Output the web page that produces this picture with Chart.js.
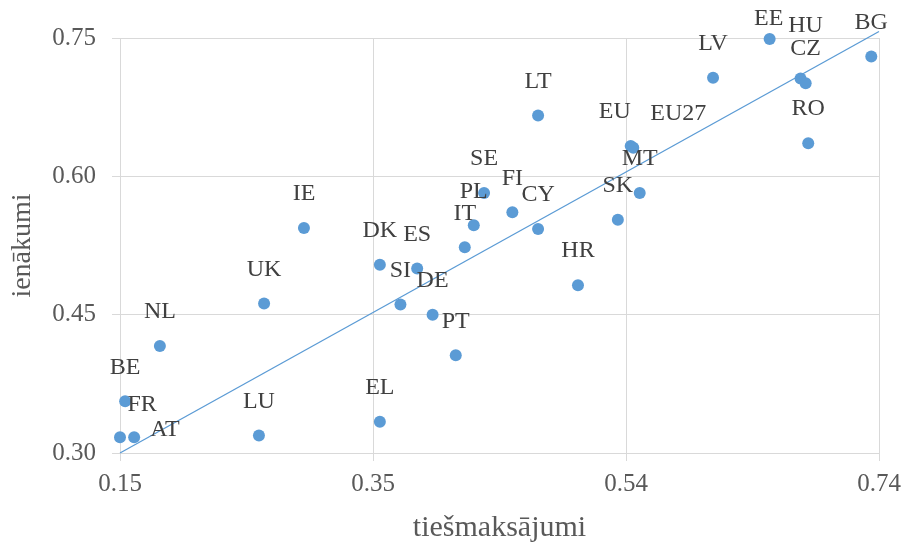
<!DOCTYPE html>
<html>
<head>
<meta charset="utf-8">
<script src="https://cdn.jsdelivr.net/npm/chart.js@4/dist/chart.umd.min.js"></script>
<style>
  html, body { margin: 0; padding: 0; background: #fff; }
  #chart { display: block; }
</style>
</head>
<body>
<canvas id="chart" width="903" height="542"></canvas>
<script>
// country codes, direct payments share (x) and income share (y)
const countries = ['BE', 'AT', 'FR', 'NL', 'LU', 'UK', 'IE', 'EL', 'DK', 'SI',
  'ES', 'DE', 'PT', 'IT', 'PL', 'SE', 'FI', 'CY', 'LT', 'HR',
  'SK', 'EU', 'EU27', 'MT', 'LV', 'EE', 'HU', 'CZ', 'RO', 'BG'];
const directPayments = [0.154, 0.150, 0.161, 0.181, 0.258, 0.262, 0.293, 0.352, 0.352, 0.368,
  0.381, 0.393, 0.411, 0.418, 0.425, 0.433, 0.455, 0.475, 0.475, 0.506,
  0.537, 0.547, 0.549, 0.554, 0.611, 0.655, 0.679, 0.683, 0.685, 0.734];
const income = [0.356, 0.317, 0.317, 0.416, 0.319, 0.462, 0.544, 0.334, 0.504, 0.461,
  0.500, 0.450, 0.406, 0.523, 0.547, 0.582, 0.561, 0.543, 0.666, 0.482,
  0.553, 0.633, 0.631, 0.582, 0.707, 0.749, 0.706, 0.701, 0.636, 0.730];

// linear trend line end points
const trendX = [0.15, 0.74];
const trendY = [0.300, 0.757];

const xTickLabels = ['0.15', '0.35', '0.54', '0.74'];
const yTickValues = [0.30, 0.45, 0.60, 0.75];

// labels that were pushed off their default spot above the marker
const labelNudge = {
  AT: [45, 26],
  FR: [8, 1],
  EU: [-16, 0],
  EU27: [45, 0],
  EE: [-1, 14],
  HU: [5, -19]
};

const blue = '#5b9bd5';
const gridColor = '#d9d9d9';
const serif = "'Liberation Serif', 'Times New Roman', serif";

const pointLabels = {
  id: 'pointLabels',
  afterDatasetsDraw(chart) {
    const meta = chart.getDatasetMeta(1);
    const ctx = chart.ctx;
    ctx.save();
    ctx.font = '24px ' + serif;
    ctx.fillStyle = '#404040';
    ctx.textAlign = 'center';
    ctx.textBaseline = 'middle';
    meta.data.forEach((pt, i) => {
      const nudge = labelNudge[countries[i]] || [0, 0];
      ctx.fillText(countries[i], pt.x + nudge[0], pt.y - 34 + nudge[1]);
    });
    ctx.restore();
  }
};

new Chart(document.getElementById('chart'), {
  type: 'scatter',
  data: {
    datasets: [
      {
        type: 'line',
        data: trendX.map((x, i) => ({ x: x, y: trendY[i] })),
        borderColor: blue,
        borderWidth: 1.3,
        pointRadius: 0,
        fill: false,
        clip: false,
        order: 0
      },
      {
        data: countries.map((c, i) => ({ x: directPayments[i], y: income[i] })),
        backgroundColor: blue,
        borderWidth: 0,
        pointRadius: 6,
        clip: false,
        order: 1
      }
    ]
  },
  options: {
    responsive: false,
    animation: false,
    layout: { padding: { top: 38, right: 24, left: 0, bottom: 0 } },
    plugins: {
      legend: { display: false },
      tooltip: { enabled: false }
    },
    scales: {
      x: {
        type: 'linear',
        min: 0.15,
        max: 0.74,
        afterBuildTicks: (scale) => {
          const step = (scale.max - scale.min) / (xTickLabels.length - 1);
          scale.ticks = xTickLabels.map((_, i) => ({ value: scale.min + i * step }));
        },
        afterFit: (scale) => {
          scale.height = 89;
          scale.paddingLeft = 0;
          scale.paddingRight = 0;
        },
        grid: { color: gridColor, lineWidth: 1, tickLength: 8, tickColor: gridColor },
        border: { color: gridColor },
        ticks: {
          color: '#595959',
          font: { family: serif, size: 25 },
          padding: 8,
          maxRotation: 0,
          callback: (v, i) => xTickLabels[i]
        },
        title: {
          display: true,
          text: 'tiešmaksājumi',
          color: '#595959',
          font: { family: serif, size: 30 },
          padding: { top: 0, bottom: -4 }
        }
      },
      y: {
        type: 'linear',
        min: 0.30,
        max: 0.75,
        afterBuildTicks: (scale) => {
          scale.ticks = yTickValues.map(v => ({ value: v }));
        },
        afterFit: (scale) => { scale.width = 120; },
        grid: { color: gridColor, lineWidth: 1, tickLength: 8, tickColor: gridColor },
        border: { color: gridColor },
        ticks: {
          color: '#595959',
          font: { family: serif, size: 25 },
          padding: 16,
          callback: (v) => v.toFixed(2)
        },
        title: {
          display: true,
          text: 'ienākumi',
          color: '#595959',
          font: { family: serif, size: 28 },
          padding: { top: 6, bottom: 0 }
        }
      }
    }
  },
  plugins: [pointLabels]
});
</script>
</body>
</html>
